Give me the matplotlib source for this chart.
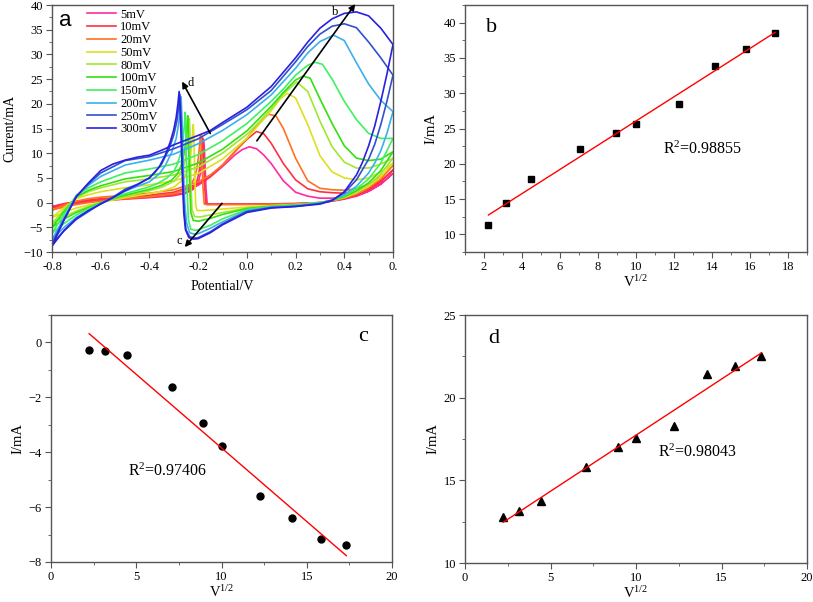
import numpy as np
import matplotlib
matplotlib.use('Agg')
import matplotlib.pyplot as plt
from matplotlib.ticker import MultipleLocator, FixedLocator, FixedFormatter

plt.rcParams['font.family'] = ['Liberation Serif', 'DejaVu Serif']
plt.rcParams['mathtext.fontset'] = 'stix'

# scan rates and peak data (panels b, c, d)
rates = ['5mV', '10mV', '20mV', '50mV', '80mV', '100mV', '150mV', '200mV', '250mV', '300mV']
sqrt_v = [2.236, 3.162, 4.472, 7.071, 8.944, 10.0, 12.247, 14.142, 15.811, 17.321]
ipa = [11.3, 14.45, 17.85, 22.1, 24.4, 25.65, 28.45, 33.8, 36.2, 38.55]
ipc = [-0.29, -0.32, -0.45, -1.64, -2.93, -3.77, -5.61, -6.39, -7.18, -7.39]
ipd = [12.78, 13.12, 13.75, 15.83, 17.02, 17.56, 18.27, 21.41, 21.94, 22.52]
r2_b, r2_c, r2_d = '0.98855', '0.97406', '0.98043'

# cyclic voltammograms (potential / V, current / mA), forward then reverse sweep
cv5_v = [-0.8, -0.75, -0.7, -0.65, -0.6, -0.5, -0.4, -0.3, -0.2, -0.15, -0.1, -0.05, -0.02, 0.01, 0.04, 0.07, 0.1, 0.15, 0.2, 0.25, 0.3, 0.35, 0.4, 0.45, 0.5, 0.55, 0.6,
         0.55, 0.5, 0.45, 0.4, 0.35, 0.3, 0.2, 0.1, 0.0, -0.1, -0.15, -0.163, -0.168, -0.172, -0.175, -0.178, -0.181, -0.185, -0.19, -0.2, -0.22, -0.25, -0.3, -0.4, -0.5, -0.6, -0.65, -0.7, -0.75, -0.8]
cv5_i = [-0.8, -0.2, 0.2, 0.4, 0.6, 0.9, 1.2, 1.8, 3.5, 5.2, 7.3, 9.6, 10.7, 11.3, 10.9, 9.6, 7.9, 4.4, 2.1, 1.3, 0.9, 0.9, 1.0, 1.4, 2.3, 3.7, 5.9,
         3.8, 2.3, 1.3, 0.7, 0.3, 0.0, -0.2, -0.25, -0.28, -0.29, -0.29, -0.2, 3.0, 8.0, 11.5, 12.8, 11.5, 8.5, 6.0, 4.0, 2.7, 1.9, 1.4, 1.0, 0.7, 0.4, 0.2, -0.1, -0.4, -0.8]

cv10_v = [-0.8, -0.75, -0.7, -0.65, -0.6, -0.5, -0.4, -0.3, -0.2, -0.15, -0.1, -0.05, 0.0, 0.04, 0.07, 0.1, 0.15, 0.2, 0.25, 0.3, 0.35, 0.4, 0.45, 0.5, 0.55, 0.6,
          0.55, 0.5, 0.45, 0.4, 0.35, 0.3, 0.2, 0.1, 0.0, -0.1, -0.155, -0.168, -0.173, -0.177, -0.18, -0.182, -0.185, -0.19, -0.195, -0.205, -0.22, -0.25, -0.3, -0.4, -0.5, -0.6, -0.65, -0.7, -0.75, -0.8]
cv10_i = [-1.0, -0.3, 0.2, 0.5, 0.8, 1.1, 1.5, 2.1, 3.8, 5.3, 7.6, 10.3, 12.8, 14.4, 13.9, 12.0, 7.9, 4.6, 2.8, 2.2, 2.0, 1.9, 2.1, 2.9, 4.4, 6.6,
          4.2, 2.6, 1.5, 0.8, 0.3, 0.0, -0.2, -0.28, -0.3, -0.32, -0.32, -0.2, 3.0, 8.0, 11.8, 13.1, 11.8, 8.8, 6.5, 4.3, 3.0, 2.1, 1.5, 1.1, 0.8, 0.4, 0.1, -0.2, -0.6, -1.0]

cv20_v = [-0.8, -0.75, -0.7, -0.65, -0.6, -0.5, -0.4, -0.3, -0.2, -0.15, -0.1, -0.05, 0.0, 0.05, 0.09, 0.12, 0.15, 0.2, 0.25, 0.3, 0.35, 0.4, 0.45, 0.5, 0.55, 0.6,
          0.55, 0.5, 0.45, 0.4, 0.35, 0.3, 0.2, 0.1, 0.0, -0.1, -0.16, -0.175, -0.18, -0.184, -0.187, -0.19, -0.193, -0.198, -0.205, -0.215, -0.23, -0.26, -0.3, -0.4, -0.5, -0.6, -0.65, -0.7, -0.75, -0.8]
cv20_i = [-1.5, -0.5, 0.3, 0.8, 1.1, 1.5, 1.9, 2.6, 4.2, 5.6, 7.6, 10.2, 13.0, 16.2, 17.9, 17.5, 15.0, 9.0, 4.4, 2.9, 2.6, 2.5, 2.8, 3.7, 5.3, 7.5,
          4.8, 3.0, 1.7, 0.9, 0.4, 0.0, -0.25, -0.35, -0.4, -0.42, -0.45, -0.3, 3.0, 8.0, 12.0, 13.75, 12.3, 9.5, 7.0, 5.0, 3.6, 2.5, 1.8, 1.2, 0.8, 0.3, 0.0, -0.4, -0.9, -1.5]

cv50_v = [-0.8, -0.75, -0.7, -0.65, -0.6, -0.5, -0.4, -0.3, -0.2, -0.1, 0.0, 0.05, 0.1, 0.135, 0.165, 0.2, 0.25, 0.3, 0.35, 0.4, 0.45, 0.5, 0.55, 0.6,
          0.55, 0.5, 0.45, 0.4, 0.35, 0.3, 0.2, 0.1, 0.0, -0.1, -0.15, -0.19, -0.205, -0.21, -0.213, -0.216, -0.218, -0.22, -0.223, -0.228, -0.235, -0.245, -0.26, -0.3, -0.35, -0.4, -0.5, -0.55, -0.6, -0.65, -0.7, -0.75, -0.8]
cv50_i = [-3.0, -1.0, 0.8, 1.6, 2.2, 3.0, 3.6, 4.4, 5.9, 8.8, 13.0, 15.8, 18.6, 20.9, 22.1, 21.2, 15.8, 9.5, 6.2, 5.0, 4.6, 5.0, 6.2, 8.0,
          5.2, 3.3, 2.0, 1.0, 0.4, 0.0, -0.4, -0.6, -0.9, -1.3, -1.5, -1.64, -1.55, -0.5, 4.0, 10.0, 14.0, 15.8, 14.0, 11.0, 8.3, 6.3, 4.8, 3.1, 2.3, 1.8, 1.0, 0.5, 0.0, -0.5, -1.1, -2.0, -3.0]

cv80_v = [-0.8, -0.75, -0.7, -0.65, -0.6, -0.5, -0.4, -0.3, -0.2, -0.1, 0.0, 0.05, 0.1, 0.15, 0.205, 0.25, 0.3, 0.35, 0.4, 0.45, 0.5, 0.55, 0.6,
          0.55, 0.5, 0.45, 0.4, 0.35, 0.3, 0.2, 0.1, 0.0, -0.1, -0.15, -0.195, -0.215, -0.225, -0.229, -0.232, -0.234, -0.236, -0.239, -0.244, -0.25, -0.26, -0.275, -0.3, -0.35, -0.4, -0.45, -0.5, -0.55, -0.6, -0.65, -0.7, -0.75, -0.8]
cv80_i = [-4.2, -1.4, 1.0, 2.2, 3.0, 4.2, 4.8, 5.6, 7.2, 10.0, 13.8, 16.3, 19.0, 22.0, 24.4, 22.5, 16.5, 11.3, 8.2, 7.0, 7.0, 7.8, 9.0,
          5.8, 3.6, 2.2, 1.1, 0.4, 0.0, -0.45, -0.7, -1.1, -2.0, -2.5, -2.93, -2.8, -1.5, 3.0, 10.0, 14.5, 17.0, 15.0, 12.0, 9.5, 7.3, 5.6, 4.3, 3.1, 2.4, 1.8, 1.3, 0.7, 0.0, -0.8, -1.7, -2.8, -4.2]

cv100_v = [-0.8, -0.75, -0.7, -0.65, -0.6, -0.5, -0.4, -0.3, -0.2, -0.1, 0.0, 0.05, 0.1, 0.15, 0.2, 0.23, 0.26, 0.3, 0.35, 0.4, 0.45, 0.5, 0.55, 0.6,
           0.55, 0.5, 0.45, 0.4, 0.35, 0.3, 0.2, 0.1, 0.0, -0.1, -0.15, -0.2, -0.22, -0.23, -0.234, -0.238, -0.241, -0.243, -0.246, -0.251, -0.258, -0.27, -0.285, -0.31, -0.35, -0.4, -0.45, -0.5, -0.55, -0.6, -0.65, -0.7, -0.75, -0.8]
cv100_i = [-5.0, -1.8, 1.2, 2.5, 3.4, 4.8, 5.5, 6.3, 8.0, 10.8, 14.5, 17.0, 19.5, 22.3, 24.8, 25.6, 25.2, 21.0, 16.0, 11.5, 9.0, 8.5, 8.8, 10.3,
           6.5, 4.0, 2.4, 1.2, 0.4, 0.0, -0.5, -0.75, -1.2, -2.4, -3.2, -3.77, -3.6, -2.0, 3.0, 10.0, 15.0, 17.6, 15.5, 12.3, 9.8, 7.5, 5.8, 4.5, 3.5, 2.7, 2.1, 1.5, 0.8, 0.0, -1.0, -2.0, -3.3, -5.0]

cv150_v = [-0.8, -0.75, -0.7, -0.65, -0.6, -0.5, -0.4, -0.3, -0.2, -0.1, 0.0, 0.1, 0.15, 0.2, 0.25, 0.28, 0.31, 0.35, 0.4, 0.45, 0.5, 0.55, 0.6,
           0.55, 0.5, 0.45, 0.4, 0.35, 0.3, 0.2, 0.1, 0.0, -0.1, -0.15, -0.2, -0.21, -0.23, -0.24, -0.245, -0.249, -0.251, -0.253, -0.256, -0.262, -0.27, -0.285, -0.3, -0.33, -0.37, -0.4, -0.45, -0.5, -0.55, -0.6, -0.65, -0.7, -0.75, -0.8]
cv150_i = [-6.2, -2.3, 1.5, 3.0, 4.2, 6.0, 6.8, 7.8, 9.7, 12.5, 16.0, 20.5, 23.0, 25.8, 27.8, 28.4, 28.0, 25.0, 20.5, 16.8, 14.0, 13.0, 13.0,
           8.0, 4.8, 2.8, 1.4, 0.5, 0.0, -0.55, -0.8, -1.4, -3.3, -4.6, -5.5, -5.61, -5.4, -3.5, 2.0, 10.0, 15.0, 18.3, 16.0, 12.8, 10.2, 7.8, 6.3, 4.9, 3.8, 3.2, 2.5, 1.8, 0.9, -0.1, -1.2, -2.5, -4.2, -6.2]

cv200_v = [-0.8, -0.75, -0.7, -0.65, -0.6, -0.5, -0.4, -0.3, -0.2, -0.1, 0.0, 0.1, 0.2, 0.25, 0.3, 0.356, 0.4, 0.45, 0.5, 0.55, 0.6,
           0.575, 0.55, 0.525, 0.5, 0.45, 0.4, 0.35, 0.3, 0.2, 0.1, 0.0, -0.1, -0.15, -0.2, -0.215, -0.235, -0.248, -0.255, -0.26, -0.264, -0.267, -0.27, -0.274, -0.28, -0.29, -0.31, -0.335, -0.36, -0.4, -0.45, -0.5, -0.55, -0.6, -0.65, -0.7, -0.75, -0.8]
cv200_i = [-7.5, -3.0, 1.3, 3.5, 5.3, 7.6, 8.6, 9.8, 11.9, 14.6, 17.8, 21.8, 27.2, 30.3, 32.6, 33.9, 32.8, 28.3, 24.0, 20.7, 18.4,
           14.0, 10.5, 8.0, 6.0, 3.3, 1.6, 0.5, -0.1, -0.65, -0.9, -1.6, -3.9, -5.2, -6.3, -6.39, -6.1, -4.0, 0.0, 6.0, 13.0, 18.0, 21.4, 19.0, 16.0, 13.0, 10.0, 7.5, 5.8, 4.2, 3.3, 2.3, 1.0, -0.2, -1.6, -3.0, -5.0, -7.5]

cv250_v = [-0.8, -0.75, -0.7, -0.65, -0.6, -0.5, -0.4, -0.3, -0.2, -0.1, 0.0, 0.1, 0.2, 0.25, 0.3, 0.35, 0.4, 0.45, 0.5, 0.55, 0.6,
           0.575, 0.55, 0.525, 0.5, 0.45, 0.4, 0.35, 0.3, 0.2, 0.1, 0.0, -0.1, -0.15, -0.2, -0.215, -0.235, -0.25, -0.257, -0.262, -0.267, -0.271, -0.275, -0.28, -0.287, -0.3, -0.32, -0.35, -0.38, -0.4, -0.45, -0.5, -0.55, -0.6, -0.65, -0.7, -0.75, -0.8]
cv250_i = [-8.3, -3.3, 1.3, 3.8, 6.0, 8.5, 9.3, 10.9, 12.9, 15.8, 18.8, 22.7, 28.5, 31.6, 34.1, 35.7, 36.2, 35.4, 32.5, 29.3, 25.8,
           20.5, 15.8, 11.8, 8.8, 4.6, 2.0, 0.5, -0.2, -0.75, -1.0, -1.8, -4.3, -5.9, -7.1, -7.18, -6.9, -5.5, -2.0, 4.0, 12.0, 18.0, 21.9, 19.3, 16.5, 13.7, 10.8, 7.8, 6.0, 5.0, 3.7, 2.7, 1.1, -0.2, -1.8, -3.4, -5.7, -8.3]

cv300_v = [-0.8, -0.75, -0.7, -0.65, -0.6, -0.55, -0.5, -0.45, -0.4, -0.35, -0.3, -0.2, -0.15, -0.1, 0.0, 0.1, 0.2, 0.25, 0.3, 0.35, 0.4, 0.45, 0.5, 0.55, 0.6,
           0.575, 0.55, 0.525, 0.5, 0.475, 0.45, 0.4, 0.35, 0.3, 0.2, 0.1, 0.0, -0.1, -0.15, -0.2, -0.218, -0.238, -0.252, -0.259, -0.264, -0.269, -0.274, -0.278, -0.283, -0.29, -0.3, -0.315, -0.335, -0.36, -0.4, -0.45, -0.5, -0.55, -0.6, -0.65, -0.7, -0.75, -0.8]
cv300_i = [-8.8, -3.5, 1.2, 4.0, 6.5, 7.8, 8.6, 9.2, 9.6, 10.6, 11.7, 13.6, 14.6, 16.2, 19.3, 23.5, 29.3, 32.5, 35.3, 37.2, 38.3, 38.6, 37.8, 35.3, 32.0,
           26.0, 20.5, 15.5, 11.5, 8.2, 5.6, 2.2, 0.4, -0.3, -0.8, -1.1, -2.0, -4.5, -6.1, -7.3, -7.39, -7.1, -5.5, -2.0, 4.0, 12.0, 19.0, 22.5, 20.0, 17.3, 14.8, 12.2, 9.6, 7.2, 5.0, 3.6, 2.4, 1.0, -0.3, -1.6, -3.2, -5.6, -8.8]

cv_v = [cv5_v, cv10_v, cv20_v, cv50_v, cv80_v, cv100_v, cv150_v, cv200_v, cv250_v, cv300_v]
cv_i = [cv5_i, cv10_i, cv20_i, cv50_i, cv80_i, cv100_i, cv150_i, cv200_i, cv250_i, cv300_i]
colors = ['#ff2aa0', '#ff3040', '#ff7020', '#dde020', '#a0e830', '#33e010', '#40f060',
          '#3ab0f0', '#3050d0', '#2a20e0']

spine_c = '#555555'


def style_axes(ax):
    for s in ax.spines.values():
        s.set_color(spine_c)
        s.set_linewidth(1.0)
    ax.tick_params(which='both', direction='out', color=spine_c, labelsize=9,
                   top=False, right=False, pad=2.5)
    ax.tick_params(which='major', length=4)
    ax.tick_params(which='minor', length=2.5)


fig = plt.figure(figsize=(8.13, 6.02), dpi=100)
W, H = 813, 602


def box(l, t, r, b):
    return [l / W, 1 - b / H, (r - l) / W, (b - t) / H]


# ---- panel a: CV curves
ax = fig.add_axes(box(52, 5, 393, 252))
for v, i, c, lab in zip(cv_v, cv_i, colors, rates):
    ax.plot(v, i, color=c, lw=1.2, label=lab)
ax.set_xlim(-0.8, 0.6)
ax.set_ylim(-10, 40)
ax.xaxis.set_major_locator(FixedLocator([-0.8, -0.6, -0.4, -0.2, 0.0, 0.2, 0.4, 0.6]))
ax.xaxis.set_major_formatter(FixedFormatter(['-0.8', '-0.6', '-0.4', '-0.2', '0.0', '0.2', '0.4', '0.']))
ax.xaxis.set_minor_locator(MultipleLocator(0.1))
ax.yaxis.set_major_locator(MultipleLocator(5))
ax.yaxis.set_minor_locator(MultipleLocator(2.5))
style_axes(ax)
ax.set_xlabel('Potential/V', fontsize=10, labelpad=5)
ax.set_ylabel('Current/mA', fontsize=10, labelpad=5)
ax.legend(loc='upper left', bbox_to_anchor=(0.103, 0.985), frameon=False, fontsize=9,
          handlelength=2.3, handletextpad=0.35, labelspacing=0.06, borderpad=0, borderaxespad=0)
ax.text(-0.745, 36.8, 'a', fontsize=16, family='Liberation Sans', ha='center', va='center')
arr = dict(arrowstyle='-|>', color='black', lw=1.2, mutation_scale=9, shrinkA=0, shrinkB=0)
ax.annotate('', xy=(0.445, 40.2), xytext=(0.041, 12.5), arrowprops=arr, annotation_clip=False)
ax.annotate('', xy=(-0.266, 24.5), xytext=(-0.15, 14.0), arrowprops=arr)
ax.annotate('', xy=(-0.255, -9.0), xytext=(-0.102, -0.15), arrowprops=arr)
ax.text(0.363, 38.6, 'b', fontsize=9, ha='center', va='center')
ax.text(-0.229, 24.2, 'd', fontsize=9, ha='center', va='center')
ax.text(-0.278, -7.8, 'c', fontsize=9, ha='center', va='center')

x = np.array(sqrt_v)

# ---- panel b
ax = fig.add_axes(box(465, 5, 807, 252))
ax.plot(x, ipa, 's', color='black', ms=4.5)
k, b0 = np.polyfit(x, ipa, 1)
ax.plot([x[0], x[-1]], [k * x[0] + b0, k * x[-1] + b0], color='red', lw=1.0)
ax.set_xlim(1, 19)
ax.set_ylim(7.5, 42.5)
ax.xaxis.set_major_locator(MultipleLocator(2))
ax.xaxis.set_minor_locator(MultipleLocator(1))
ax.yaxis.set_major_locator(MultipleLocator(5))
ax.yaxis.set_minor_locator(MultipleLocator(2.5))
style_axes(ax)
ax.set_xlabel(r'$\mathregular{V^{1/2}}$', fontsize=10.5, labelpad=1)
ax.set_ylabel('I/mA', fontsize=10.5, labelpad=4)
ax.text(11.4, 22.0, r'$\mathregular{R^2}$=' + r2_b, fontsize=11.5, va='center')
ax.text(2.1, 39.3, 'b', fontsize=16, va='center')

# ---- panel c
ax = fig.add_axes(box(51, 315, 392, 562))
ax.plot(x, ipc, 'o', color='black', ms=5)
k, b0 = np.polyfit(x, ipc, 1)
ax.plot([x[0], x[-1]], [k * x[0] + b0, k * x[-1] + b0], color='red', lw=1.0)
ax.set_xlim(0, 20)
ax.set_ylim(-8, 1)
ax.xaxis.set_major_locator(MultipleLocator(5))
ax.xaxis.set_minor_locator(MultipleLocator(2.5))
ax.yaxis.set_major_locator(MultipleLocator(2))
ax.yaxis.set_minor_locator(MultipleLocator(1))
style_axes(ax)
ax.set_xlabel(r'$\mathregular{V^{1/2}}$', fontsize=10.5, labelpad=1)
ax.set_ylabel('I/mA', fontsize=10.5, labelpad=3)
ax.text(4.5, -4.7, r'$\mathregular{R^2}$=' + r2_c, fontsize=11.5, va='center')
ax.text(18.3, 0.2, 'c', fontsize=16, ha='center', va='center')

# ---- panel d
ax = fig.add_axes(box(465, 315, 807, 563))
ax.plot(x, ipd, '^', color='black', ms=5.5)
k, b0 = np.polyfit(x, ipd, 1)
ax.plot([x[0], x[-1]], [k * x[0] + b0, k * x[-1] + b0], color='red', lw=1.0)
ax.set_xlim(0, 20)
ax.set_ylim(10, 25)
ax.xaxis.set_major_locator(MultipleLocator(5))
ax.xaxis.set_minor_locator(MultipleLocator(2.5))
ax.yaxis.set_major_locator(MultipleLocator(5))
ax.yaxis.set_minor_locator(MultipleLocator(2.5))
style_axes(ax)
ax.set_xlabel(r'$\mathregular{V^{1/2}}$', fontsize=10.5, labelpad=1)
ax.set_ylabel('I/mA', fontsize=10.5, labelpad=3)
ax.text(11.3, 16.7, r'$\mathregular{R^2}$=' + r2_d, fontsize=11.5, va='center')
ax.text(1.7, 23.6, 'd', fontsize=16, ha='center', va='center')

fig.savefig('out.png', dpi=100)
